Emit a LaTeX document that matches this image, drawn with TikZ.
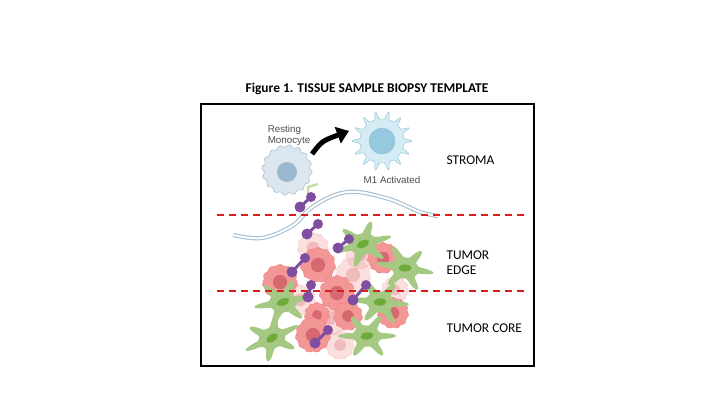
\documentclass[tikz,border=0pt]{standalone}
\usepackage{fontspec}
\setmainfont{Carlito}
\newfontfamily\arialfont{Liberation Sans}
\usetikzlibrary{arrows.meta}

\definecolor{tumorpink}{RGB}{242,150,150}
\definecolor{tumorcore}{RGB}{214,105,112}
\definecolor{fibrogreen}{RGB}{165,200,130}
\definecolor{fibrocore}{RGB}{110,170,60}
\definecolor{cellblue}{RGB}{214,236,244}
\definecolor{cellline}{RGB}{130,190,215}
\definecolor{nucblue}{RGB}{150,200,222}
\definecolor{monogrey}{RGB}{220,230,238}
\definecolor{monoline}{RGB}{150,175,200}
\definecolor{monocore}{RGB}{155,185,205}
\definecolor{fibercol}{RGB}{165,190,210}
\definecolor{abpurple}{RGB}{128,78,160}
\definecolor{receptorgreen}{RGB}{190,225,160}
\definecolor{zonered}{RGB}{218,30,30}

% tumour cell: x, y, radius, opacity
\newcommand{\tumorcell}[4]{%
  \begin{scope}[shift={(#1,#2)}, opacity=#4]
    \fill[tumorpink, draw=tumorpink!85!red, thin] plot[smooth cycle, samples=36, domain=0:350] (\x:{#3+0.9*sin(11*\x)});
    \fill[tumorcore] (0,0) circle ({0.42*#3});
  \end{scope}}

% fibroblast: x, y, rotation, scale
\newcommand{\fibroblast}[4]{%
  \begin{scope}[shift={(#1,#2)}, rotate=#3, scale=#4]
    \fill[fibrogreen, xscale=1.3] plot[smooth cycle, samples=72, domain=0:355] (\x:{10.5+12*abs(cos(3*\x+20))^6});
    \fill[fibrocore, rotate=15] (0,0) ellipse (6.5 and 3.6);
  \end{scope}}

% antibody: from, to
\newcommand{\antibody}[2]{%
  \draw[abpurple, line width=3pt] (#1) -- (#2);
  \fill[abpurple] (#1) circle (5.5) (#2) circle (5);}

\begin{document}
\begin{tikzpicture}[x=1pt, y=-1pt]
\tikzset{
  zone/.style={zonered, line width=1.7pt, dash pattern=on 7pt off 5pt},
  zonelabel/.style={anchor=west, font=\fontsize{13.4}{15}\selectfont, align=left},
  celllabel/.style={font=\arialfont\fontsize{9.8}{11}\selectfont, text=black!70, align=left},
}
\useasboundingbox (0,0) rectangle (720,405);

% title and frame
\node[font=\bfseries\fontsize{13.4}{15}\selectfont] (title) at (367,89) {Figure 1. TISSUE SAMPLE BIOPSY TEMPLATE};
\draw[line width=1.7pt] (201,104) rectangle (534,366);

% fibre
\draw[fibercol, line width=1.1pt, double=white, double distance=2pt]
  plot[smooth, tension=0.6] coordinates {(233,235) (262,238) (292,226) (311,208) (335,195) (358,192) (392,200) (420,212) (438,216)};

% monocyte
\fill[monogrey, draw=monoline, thin] plot[smooth cycle, samples=72, domain=0:355] ({287+(24+1.3*sin(16*\x))*cos(\x)}, {170+(24+1.3*sin(16*\x))*sin(\x)});
\fill[monocore] (287,172) circle (10);
\draw[receptorgreen, line width=2.4pt] (308,198) -- (308,187) -- (318,184);

% M1 activated cell
\fill[cellblue, draw=cellline, thin] plot[smooth cycle, samples=180, domain=0:358] ({382+(22+8*abs(cos(7*\x))^10)*cos(\x)}, {141+(22+8*abs(cos(7*\x))^10)*sin(\x)});
\fill[nucblue, draw=cellline, thin] (382,141) circle (13);

\coordinate (from) at (312,154);
\coordinate (to) at (349,131);
\draw[black, line width=5pt, -{Triangle[length=12pt, width=17pt]}] (from) .. controls (322,141) .. (to);

\node[celllabel] (rest) at (289,135) {Resting\\Monocyte};
\node[celllabel] (m1) at (392,180) {M1 Activated};

% tumour mass
\foreach \cx/\cy/\cr in {313/248/15, 353/275/17, 300/300/15, 330/318/17, 370/248/13, 340/345/14, 395/290/13, 360/255/14}
  {\tumorcell{\cx}{\cy}{\cr}{0.3}}
\foreach \cx/\cy/\cr in {280/282/17, 318/265/17, 383/258/15, 337/293/17, 317/315/12, 348/316/14, 393/313/15, 313/335/17}
  {\tumorcell{\cx}{\cy}{\cr}{1}}
\fibroblast{363}{244}{10}{1}
\fibroblast{405}{268}{-15}{1}
\fibroblast{283}{302}{5}{1}
\fibroblast{380}{302}{-10}{1}
\fibroblast{272}{338}{20}{1}
\fibroblast{367}{336}{-5}{1}

% antibodies
\antibody{300,207}{311,197}
\antibody{307,234}{318,224}
\antibody{338,248}{349,239}
\antibody{292,272}{305,258}
\antibody{308,297}{311,285}
\antibody{353,300}{366,285}
\antibody{315,343}{328,330}

% zones
\draw[zone] (217,215) -- (527,215);
\draw[zone] (217,291) -- (527,291);
\node[zonelabel] (stroma) at (443,160) {STROMA};
\node[zonelabel] (edge) at (443,263) {TUMOR\\EDGE};
\node[zonelabel] (core) at (443,328) {TUMOR CORE};
\end{tikzpicture}
\end{document}
